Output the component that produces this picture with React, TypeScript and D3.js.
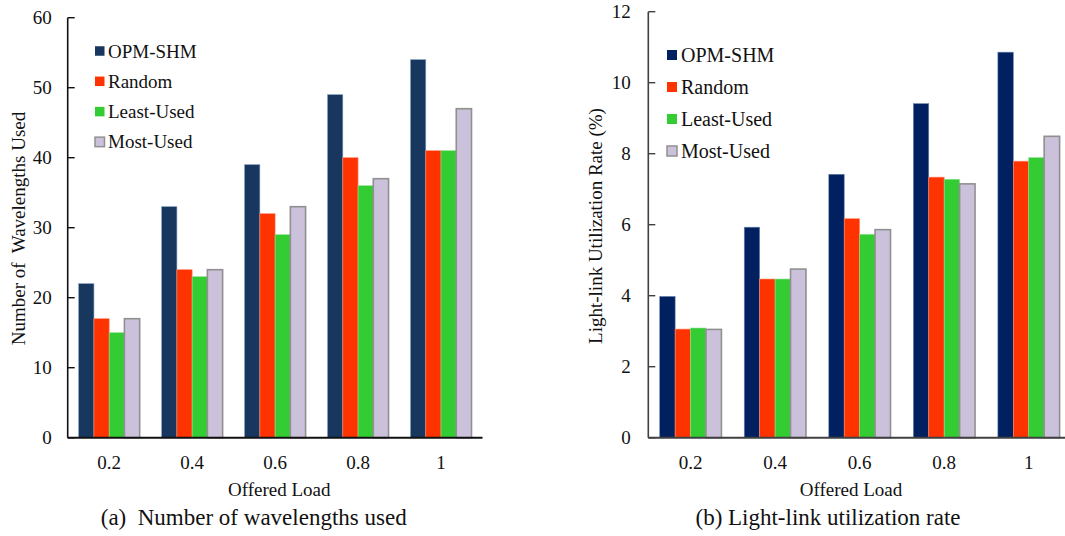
import React from "react";
import * as d3 from "d3";

const categories = ["0.2", "0.4", "0.6", "0.8", "1"];
const seriesNames = ["OPM-SHM", "Random", "Least-Used", "Most-Used"];

const wavelengthsOPM = [22, 33, 39, 49, 54];
const wavelengthsRandom = [17, 24, 32, 40, 41];
const wavelengthsLeast = [15, 23, 29, 36, 41];
const wavelengthsMost = [17, 24, 33, 37, 47];

const utilOPM = [3.98, 5.93, 7.42, 9.41, 10.86];
const utilRandom = [3.06, 4.47, 6.17, 7.34, 7.79];
const utilLeast = [3.09, 4.47, 5.73, 7.28, 7.89];
const utilMost = [3.05, 4.75, 5.86, 7.15, 8.49];

const leftTicks = [0, 10, 20, 30, 40, 50, 60];
const rightTicks = [0, 2, 4, 6, 8, 10, 12];

const FONT = "'Liberation Serif', 'Times New Roman', serif";

type PanelProps = {
  data: number[][];
  ticks: number[];
  yMax: number;
  x0: number;
  x1: number;
  yTop: number;
  yBase: number;
  pad: number;
  fills: string[];
  strokes: string[];
  strokeWidths: number[];
  axisColor: string;
  tickLabelGap: number;
  yTitle: string;
  yTitleX: number;
  yTitleY: number;
  xTitleX: number;
  caption: string;
  captionX: number;
  legendSqX: number;
  legendSq: number;
  legendTextX: number;
  legendY0: number;
  legendDy: number;
  legendFont: number;
};

function Panel(p: PanelProps) {
  const y = d3.scaleLinear().domain([0, p.yMax]).range([p.yBase, p.yTop]);
  const xg = d3.scaleBand<string>().domain(categories).range([p.x0, p.x1]).paddingInner(p.pad).paddingOuter(p.pad / 2);
  const xs = d3.scaleBand<string>().domain(seriesNames).range([0, xg.bandwidth()]);
  return (
    <g>
      {categories.map((c, ci) => (
        <g key={c} transform={`translate(${xg(c)},0)`}>
          {seriesNames.map((s, si) => {
            const v = p.data[si][ci];
            return (
              <rect
                key={s}
                x={xs(s)}
                y={y(v)}
                width={xs.bandwidth()}
                height={p.yBase - y(v)}
                fill={p.fills[si]}
                stroke={p.strokes[si]}
                strokeWidth={p.strokeWidths[si]}
              />
            );
          })}
        </g>
      ))}
      {/* y axis */}
      <line x1={p.x0} x2={p.x0} y1={p.yTop} y2={p.yBase} stroke={p.axisColor} strokeWidth={1.6} />
      {p.ticks.map((t) => (
        <g key={t}>
          <line x1={p.x0} x2={p.x0 + 7} y1={y(t)} y2={y(t)} stroke={p.axisColor} strokeWidth={1.4} />
          <text x={p.x0 - p.tickLabelGap} y={y(t) + 6.3} textAnchor="end" fontSize={19} fontFamily={FONT} fill="#111">
            {t}
          </text>
        </g>
      ))}
      {/* x axis */}
      <line x1={p.x0} x2={p.x1} y1={p.yBase} y2={p.yBase} stroke={p.axisColor} strokeWidth={2} />
      {categories.map((c) => (
        <text key={c} x={(xg(c) as number) + xg.bandwidth() / 2} y={469} textAnchor="middle" fontSize={19} fontFamily={FONT} fill="#111">
          {c}
        </text>
      ))}
      <text x={p.xTitleX} y={495.5} textAnchor="middle" fontSize={19} fontFamily={FONT} fill="#111">
        Offered Load
      </text>
      <text
        transform={`translate(${p.yTitleX},${p.yTitleY}) rotate(-90)`}
        textAnchor="middle"
        dominantBaseline="central"
        fontSize={19}
        fontFamily={FONT}
        fill="#111"
        style={{ whiteSpace: "pre" }}
      >
        {p.yTitle}
      </text>
      <text x={p.captionX} y={525} textAnchor="middle" fontSize={23} fontFamily={FONT} fill="#111" style={{ whiteSpace: "pre" }}>
        {p.caption}
      </text>
      {/* legend */}
      {seriesNames.map((s, si) => {
        const cy = p.legendY0 + si * p.legendDy;
        return (
          <g key={s}>
            <rect
              x={p.legendSqX}
              y={cy - p.legendSq / 2}
              width={p.legendSq}
              height={p.legendSq}
              fill={p.fills[si]}
              stroke={si === 3 ? p.strokes[si] : "none"}
              strokeWidth={si === 3 ? 1.5 : 0}
            />
            <text x={p.legendTextX} y={cy + 6.5} fontSize={p.legendFont} fontFamily={FONT} fill="#111">
              {s}
            </text>
          </g>
        );
      })}
    </g>
  );
}

export default function App() {
  return (
    <svg
      width={1065}
      height={536}
      style={{ position: "absolute", left: 0, top: 0, background: "#fff" }}
      xmlns="http://www.w3.org/2000/svg"
    >
      <rect x={0} y={0} width={1065} height={536} fill="#fff" />
      <Panel
        data={[wavelengthsOPM, wavelengthsRandom, wavelengthsLeast, wavelengthsMost]}
        ticks={leftTicks}
        yMax={60}
        x0={67.7}
        x1={482.5}
        yTop={17.7}
        yBase={437.7}
        pad={0.265}
        fills={["#17375E", "#FF3300", "#33CC33", "#CCC1DA"]}
        strokes={["#7f97b8", "#ff8f70", "#8fe08f", "#909090"]}
        strokeWidths={[0.6, 0.6, 0.6, 1.6]}
        axisColor="#111"
        tickLabelGap={16}
        yTitle="Number of  Wavelengths Used"
        yTitleX={18.5}
        yTitleY={228.5}
        xTitleX={279.3}
        caption="(a)  Number of wavelengths used"
        captionX={253.7}
        legendSqX={95}
        legendSq={9.5}
        legendTextX={108}
        legendY0={51}
        legendDy={30.3}
        legendFont={19}
      />
      <Panel
        data={[utilOPM, utilRandom, utilLeast, utilMost]}
        ticks={rightTicks}
        yMax={12}
        x0={648.3}
        x1={1071}
        yTop={11.7}
        yBase={437.7}
        pad={0.27}
        fills={["#002060", "#FF3300", "#33CC33", "#CCC1DA"]}
        strokes={["#6f86b0", "#ff8f70", "#8fe08f", "#909090"]}
        strokeWidths={[0.6, 0.6, 0.6, 1.6]}
        axisColor="#404040"
        tickLabelGap={17.6}
        yTitle="Light-link Utilization Rate (%)"
        yTitleX={595}
        yTitleY={226}
        xTitleX={851}
        caption="(b) Light-link utilization rate"
        captionX={828}
        legendSqX={667}
        legendSq={10}
        legendTextX={681}
        legendY0={55}
        legendDy={32}
        legendFont={20}
      />
    </svg>
  );
}
